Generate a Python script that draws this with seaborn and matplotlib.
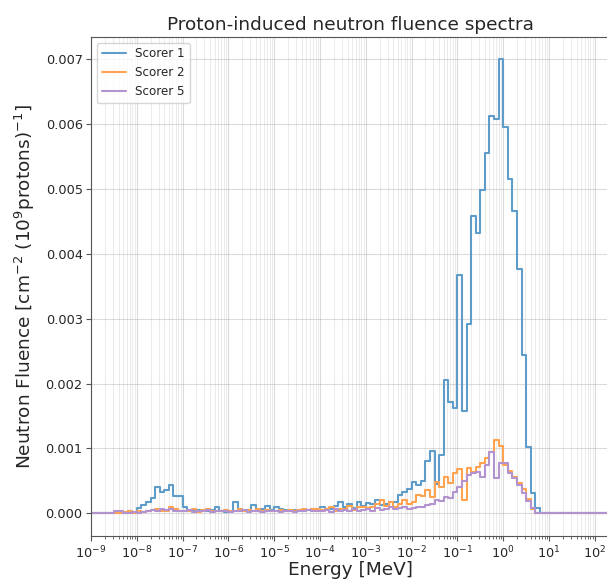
import numpy as np
import pandas as pd
import matplotlib
matplotlib.use("Agg")
import matplotlib.pyplot as plt
import matplotlib.colors as mcolors
import seaborn as sns

# Energy binning: 10 logarithmic bins per decade, lower edges from 1e-9 MeV
log_edge_start = -9.0
bins_per_decade = 10

# Fluence per bin in units of 1e-4 cm^-2 (1e9 protons)^-1, one row per decade
scorer1 = [
    0, 0, 0, 0, 0, 0, 0.0, 0.1, 0.4, 0.1,            # 1e-9
    0.8, 1.3, 1.7, 2.3, 4.0, 3.3, 3.6, 4.3, 2.7, 2.7,  # 1e-8
    1.0, 0.4, 0.3, 0.5, 0.3, 0.4, 0.5, 0.9, 0.3, 0.2,  # 1e-7
    0.3, 1.8, 0.6, 0.4, 0.3, 1.3, 0.5, 0.6, 1.2, 0.5,  # 1e-6
    1.0, 0.6, 0.5, 0.5, 0.5, 0.5, 0.4, 0.5, 0.6, 0.5,  # 1e-5
    0.9, 0.6, 0.7, 1.1, 1.7, 0.9, 1.4, 0.8, 1.8, 1.2,  # 1e-4
    1.6, 1.5, 2.0, 1.3, 1.4, 1.8, 1.7, 2.8, 3.3, 3.8,  # 1e-3
    4.9, 4.4, 5.0, 8.0, 9.6, 4.5, 9.0, 20.5, 17.2, 16.2,  # 1e-2
    36.7, 15.7, 29.2, 45.8, 43.3, 49.8, 55.5, 61.3, 60.8, 70.0,  # 1e-1
    59.6, 51.5, 46.6, 37.7, 24.4, 10.3, 3.1, 0.8, 0, 0,  # 1e0
    0, 0, 0, 0, 0, 0, 0, 0, 0, 0,                      # 1e1
    0, 0, 0,                                           # 1e2
]
scorer2 = [
    0, 0, 0, 0, 0, 0, 0, 0.2, 0.3, 0.1,
    0.3, 0.2, 0.3, 0.5, 0.6, 0.3, 0.4, 0.9, 0.7, 0.3,
    0.4, 0.3, 0.6, 0.2, 0.5, 0.6, 0.3, 0.4, 0.3, 0.5,
    0.4, 0.3, 0.6, 0.4, 0.5, 0.3, 0.6, 0.4, 0.5, 0.3,
    0.4, 0.5, 0.4, 0.5, 0.4, 0.5, 0.6, 0.5, 0.7, 0.6,
    0.5, 0.6, 0.9, 0.4, 0.7, 0.6, 1.2, 0.5, 1.0, 0.9,
    0.8, 1.0, 1.4, 2.0, 1.1, 1.8, 1.0, 1.5, 2.0, 1.4,
    1.8, 2.8, 2.6, 3.6, 2.5, 4.8, 4.0, 5.6, 4.6, 6.2,
    6.8, 2.0, 7.0, 6.4, 7.2, 7.8, 8.6, 9.5, 11.3, 10.4,
    7.5, 6.6, 5.6, 4.7, 3.8, 2.2, 0.6, 0, 0, 0,
    0, 0, 0, 0, 0, 0, 0, 0, 0, 0,
    0, 0, 0,
]
scorer5 = [
    0, 0, 0, 0, 0, 0.3, 0.4, 0.1, 0.1, 0.2,
    0.1, 0.2, 0.4, 0.5, 0.3, 0.6, 0.5, 0.6, 0.4, 0.3,
    0.3, 0.5, 0.2, 0.4, 0.3, 0.5, 0.2, 0.3, 0.4, 0.3,
    0.2, 0.4, 0.3, 0.5, 0.2, 0.3, 0.4, 0.2, 0.3, 0.4,
    0.3, 0.2, 0.4, 0.3, 0.2, 0.4, 0.3, 0.5, 0.3, 0.4,
    0.3, 0.5, 0.2, 0.6, 0.3, 0.5, 0.4, 0.7, 0.3, 0.5,
    0.6, 0.4, 0.8, 0.5, 0.7, 0.9, 0.6, 0.8, 1.0, 0.7,
    0.8, 1.0, 1.0, 1.3, 1.5, 2.0, 1.9, 2.5, 2.3, 3.3,
    4.1, 5.0, 5.9, 6.2, 6.4, 5.6, 7.4, 9.5, 5.4, 7.7,
    7.7, 6.2, 5.4, 4.4, 3.1, 1.9, 0.8, 0, 0, 0,
    0, 0, 0, 0, 0, 0, 0, 0, 0, 0,
    0, 0, 0,
]
scorer_names = ["Scorer 1", "Scorer 2", "Scorer 5"]
value_scale = 1e-4

# Build step-post table: each bin's lower edge plus the final upper edge
n_bins = len(scorer1)
log_edges = log_edge_start + np.arange(n_bins + 1) / bins_per_decade
edges = 10.0 ** log_edges
frames = []
for name, vals in zip(scorer_names, [scorer1, scorer2, scorer5]):
    v = np.asarray(vals, dtype=float) * value_scale
    v = np.append(v, v[-1])
    frames.append(pd.DataFrame({"Energy": edges, "Fluence": v, "Scorer": name}))
df = pd.concat(frames, ignore_index=True)

# Lightened tab10 colours (blue, orange, purple)
def soften(c, a=0.72):
    r = np.array(mcolors.to_rgb(c))
    return tuple(a * r + (1 - a) * np.ones(3))

palette = {"Scorer 1": soften("#1f77b4"),
           "Scorer 2": soften("#ff7f0e"),
           "Scorer 5": soften("#9467bd")}

sns.set_style("ticks")
plt.rcParams["font.family"] = ["DejaVu Sans"]

W, H = 607, 581
fig = plt.figure(figsize=(W / 100, H / 100), dpi=100)
left_px, right_px, top_px, bottom_px = 91, 609, 36.7, 536
ax = fig.add_axes([left_px / W, (H - bottom_px) / H,
                   (right_px - left_px) / W, (bottom_px - top_px) / H])

sns.lineplot(data=df, x="Energy", y="Fluence", hue="Scorer", palette=palette,
             drawstyle="steps-post", estimator=None, sort=False,
             linewidth=1.5, ax=ax)

ax.set_xscale("log")
px_per_decade = 45.8
ax.set_xlim(1e-9, 10 ** (-9 + (right_px - left_px) / px_per_decade))
ax.set_ylim(-0.00035, 0.00735)
ax.xaxis.set_major_locator(matplotlib.ticker.LogLocator(base=10, numticks=20))
ax.xaxis.set_minor_locator(matplotlib.ticker.LogLocator(base=10, subs=np.arange(2, 10), numticks=20))
ax.yaxis.set_major_locator(matplotlib.ticker.MultipleLocator(0.001))
ax.yaxis.set_major_formatter(matplotlib.ticker.FormatStrFormatter("%.3f"))

ax.grid(True, which="major", color="#b0b0b0", linewidth=0.8, alpha=0.45)
ax.grid(True, which="minor", axis="x", color="#b0b0b0", linewidth=0.7, alpha=0.25)
ax.set_axisbelow(True)

for s in ax.spines.values():
    s.set_color("#555555")
ax.tick_params(axis="both", which="major", labelsize=9.3, length=3.5, pad=2.5, color="#555555")
ax.tick_params(axis="x", which="minor", length=2, color="#555555")

ax.set_title("Proton-induced neutron fluence spectra", fontsize=13.3, pad=5)
ax.set_xlabel("Energy [MeV]", fontsize=13.3, labelpad=0)
ax.set_ylabel(r"Neutron Fluence [cm$^{-2}$ (10$^{9}$protons)$^{-1}$]", fontsize=13.3, labelpad=6)

handles, labels = ax.get_legend_handles_labels()
ax.legend(handles, labels, loc="upper left", fontsize=8.6, frameon=True,
          borderaxespad=0.5, handlelength=2.0)

fig.savefig("out.png", dpi=100)
